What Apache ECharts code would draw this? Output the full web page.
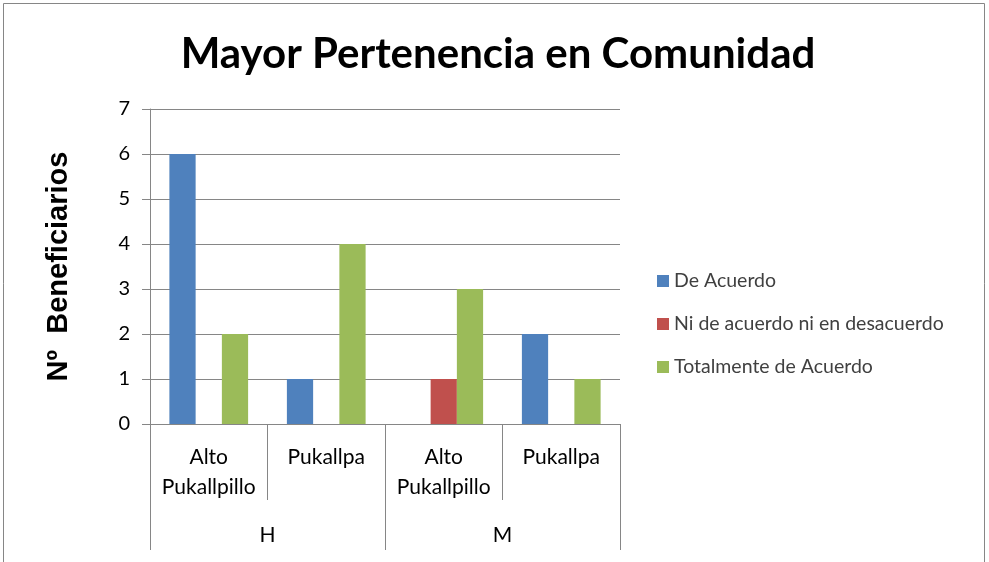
<!DOCTYPE html>
<html>
<head>
<meta charset="utf-8">
<script src="https://cdn.jsdelivr.net/npm/echarts@6/dist/echarts.min.js"></script>
<style>
  html, body { margin: 0; padding: 0; background: #fff; }
  #chart { width: 989px; height: 562px; }
</style>
</head>
<body>
<div id="chart"></div>
<script>
// Inner categories (community) and outer groups (sex)
const communities = ['Alto\nPukallpillo', 'Pukallpa', 'Alto\nPukallpillo', 'Pukallpa'];
const groups = ['H', 'M'];

// Number of beneficiaries per answer
const deAcuerdo = [6, 1, null, 2];
const niDeAcuerdo = [null, null, 1, null];
const totalmente = [2, 4, 3, 1];

const yTicks = [0, 7, 1]; // min, max, interval

const axisGray = '#868686';
const font = 'Lato, "Open Sans", sans-serif';

const chart = echarts.init(document.getElementById('chart'));
chart.setOption({
  animation: false,
  title: {
    text: 'Mayor Pertenencia en Comunidad',
    left: 493, textAlign: 'center', top: 28,
    textStyle: { fontFamily: font, fontWeight: 'bold', fontSize: 42, color: '#000' }
  },
  graphic: [{
    type: 'rect', silent: true,
    shape: { x: 3.5, y: 3.5, width: 981, height: 600 },
    style: { fill: 'none', stroke: axisGray, lineWidth: 1 }
  }],
  legend: {
    orient: 'vertical', left: 652, top: 266,
    itemWidth: 12, itemHeight: 12, itemGap: 23, icon: 'rect',
    textStyle: { fontFamily: font, fontSize: 19.5, color: '#404040' },
    data: ['De Acuerdo', 'Ni de acuerdo ni en desacuerdo', 'Totalmente de Acuerdo']
  },
  grid: { left: 150, right: 369, top: 109, bottom: 138 },
  xAxis: [{
    type: 'category', data: communities, position: 'bottom',
    axisLine: { show: true, lineStyle: { color: axisGray } },
    axisTick: { show: true, interval: 0, length: 76, lineStyle: { color: axisGray } },
    axisLabel: { interval: 0, margin: 18, lineHeight: 30, fontFamily: font, fontSize: 21, color: '#000' }
  }, {
    type: 'category', data: groups, position: 'bottom',
    axisLine: { show: false },
    axisTick: { show: true, interval: 0, length: 126, lineStyle: { color: axisGray } },
    axisLabel: { interval: 0, margin: 96, lineHeight: 30, fontFamily: font, fontSize: 21, color: '#000' }
  }],
  yAxis: {
    type: 'value', min: yTicks[0], max: yTicks[1], interval: yTicks[2],
    name: 'Nº  Beneficiarios', nameLocation: 'middle', nameGap: 77, nameRotate: 90,
    nameTextStyle: { fontFamily: '"Liberation Sans", Arial, sans-serif', fontWeight: 'bold', fontSize: 29, color: '#000' },
    axisLine: { show: true, lineStyle: { color: axisGray } },
    axisTick: { show: true, length: 8, lineStyle: { color: axisGray } },
    splitLine: { show: true, lineStyle: { color: axisGray } },
    axisLabel: { margin: 20, fontFamily: font, fontSize: 20, color: '#000' }
  },
  series: [
    { name: 'De Acuerdo', type: 'bar', data: deAcuerdo, barGap: '0%', barCategoryGap: '33%', itemStyle: { color: '#4F81BD' } },
    { name: 'Ni de acuerdo ni en desacuerdo', type: 'bar', data: niDeAcuerdo, itemStyle: { color: '#C0504D' } },
    { name: 'Totalmente de Acuerdo', type: 'bar', data: totalmente, itemStyle: { color: '#9BBB59' } }
  ]
});
</script>
</body>
</html>
